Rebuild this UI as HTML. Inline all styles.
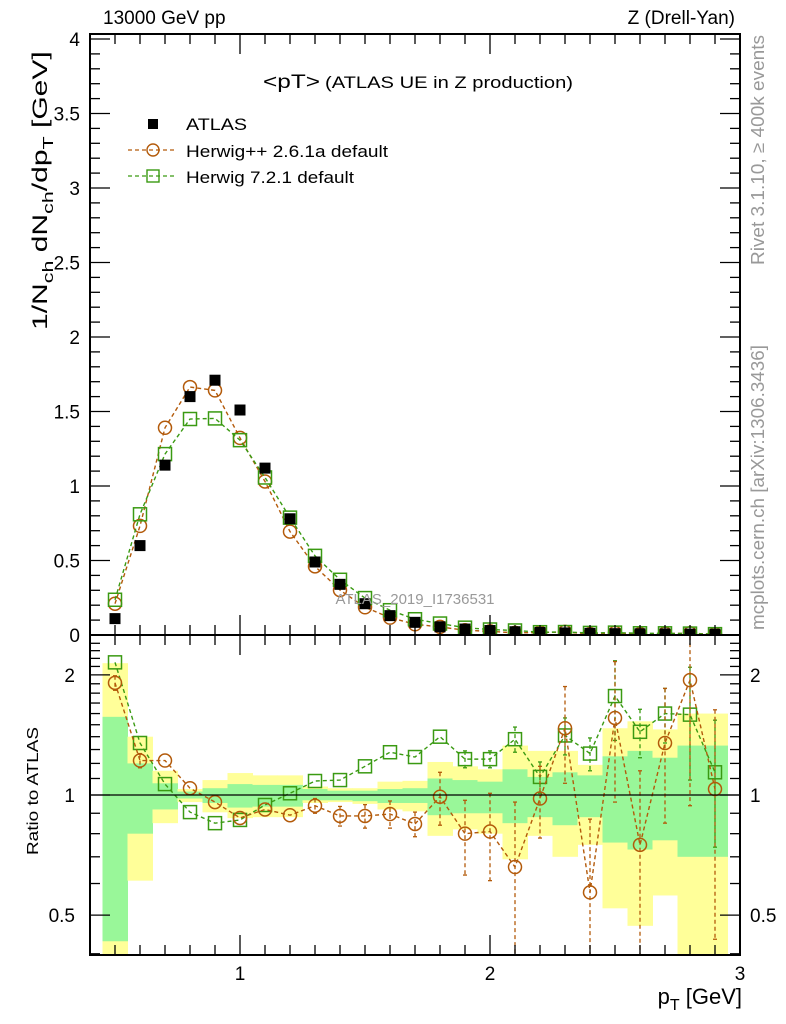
<!DOCTYPE html>
<html><head><meta charset="utf-8"><style>
body{margin:0;background:#fff;}
svg{display:block;font-family:"Liberation Sans",sans-serif;}
</style></head><body>
<svg id="chart" width="786" height="1024" viewBox="0 0 786 1024" xmlns="http://www.w3.org/2000/svg">
<defs>
<clipPath id="clipMain"><rect x="90" y="34" width="650" height="601"/></clipPath>
<clipPath id="clipRatio"><rect x="90" y="635" width="650" height="320"/></clipPath>
</defs>
<g id="bands" clip-path="url(#clipRatio)"></g>
<g id="marks"></g>
<g id="axes"></g>
<text x="103" y="24" font-size="19">13000 GeV pp</text>
<text x="735" y="24" font-size="19" text-anchor="end">Z (Drell-Yan)</text>
<text x="263" y="88"><tspan font-size="19" textLength="57" lengthAdjust="spacingAndGlyphs">&lt;pT&gt;</tspan><tspan font-size="17" x="325" textLength="248" lengthAdjust="spacingAndGlyphs">(ATLAS UE in Z production)</tspan></text>
<g>
<rect x="148" y="119" width="10" height="10" fill="#000"/>
<text x="186" y="130" font-size="17" textLength="61" lengthAdjust="spacingAndGlyphs">ATLAS</text>
<line x1="128" y1="150" x2="177" y2="150" stroke="#b35a0a" stroke-width="1.3" stroke-dasharray="4,3"/>
<circle cx="153" cy="150" r="6" fill="none" stroke="#b35a0a" stroke-width="1.4"/>
<text x="186" y="157" font-size="17" textLength="202" lengthAdjust="spacingAndGlyphs">Herwig++ 2.6.1a default</text>
<line x1="128" y1="176" x2="177" y2="176" stroke="#3a9a12" stroke-width="1.3" stroke-dasharray="4,3"/>
<rect x="147" y="170" width="12" height="12" fill="none" stroke="#3a9a12" stroke-width="1.4"/>
<text x="186" y="183" font-size="17" textLength="168" lengthAdjust="spacingAndGlyphs">Herwig 7.2.1 default</text>
</g>
<text x="415" y="604" font-size="15" fill="#999" text-anchor="middle">ATLAS_2019_I1736531</text>
<text transform="translate(764,265) rotate(-90)" font-size="18" fill="#999" textLength="230" lengthAdjust="spacingAndGlyphs">Rivet 3.1.10, ≥ 400k events</text>
<text transform="translate(764,630) rotate(-90)" font-size="18" fill="#999" textLength="285" lengthAdjust="spacingAndGlyphs">mcplots.cern.ch [arXiv:1306.3436]</text>
<text transform="translate(47,330) rotate(-90) scale(1.43,1)" font-size="21">1/N<tspan font-size="15" dy="6">ch</tspan><tspan dy="-6"> dN</tspan><tspan font-size="15" dy="6">ch</tspan><tspan dy="-6">/dp</tspan><tspan font-size="15" dy="6">T</tspan><tspan dy="-6"> [GeV]</tspan></text>
<text transform="translate(38,791) rotate(-90)" font-size="16" text-anchor="middle" textLength="128" lengthAdjust="spacingAndGlyphs">Ratio to ATLAS</text>
<text x="742" y="1004" font-size="22" text-anchor="end">p<tspan font-size="16" dy="6">T</tspan><tspan dy="-6"> [GeV]</tspan></text>
<script>
const xs=[0.5,0.6,0.7,0.8,0.9,1.0,1.1,1.2,1.3,1.4,1.5,1.6,1.7,1.8,1.9,2.0,2.1,2.2,2.3,2.4,2.5,2.6,2.7,2.8,2.9];
const atlasVals=[0.11,0.60,1.14,1.60,1.71,1.51,1.12,0.78,0.49,0.34,0.21,0.13,0.085,0.055,0.04,0.03,0.022,0.017,0.014,0.011,0.009,0.008,0.007,0.006,0.005];
const hppRatio=[1.91,1.22,1.22,1.04,0.96,0.876,0.92,0.89,0.94,0.886,0.886,0.896,0.846,0.99,0.80,0.81,0.66,0.98,1.47,0.57,1.56,0.75,1.35,1.94,1.035];
const hppErr=[0.08,0.05,0.03,0.02,0.02,0.02,0.03,0.03,0.04,0.05,0.06,0.07,0.06,0.15,0.17,0.2,0.3,0.2,0.4,0.3,0.6,0.4,0.5,1.0,0.6];
const h7Ratio=[2.15,1.35,1.065,0.906,0.85,0.866,0.944,1.01,1.084,1.09,1.18,1.28,1.245,1.40,1.23,1.23,1.38,1.11,1.41,1.27,1.77,1.44,1.60,1.59,1.14];
const h7Err=[0.03,0.03,0.02,0.02,0.02,0.02,0.02,0.02,0.02,0.03,0.03,0.04,0.04,0.05,0.06,0.06,0.1,0.1,0.15,0.12,0.4,0.2,0.25,0.5,0.4];
const yelHi=[2.14,1.40,1.15,1.035,1.09,1.135,1.12,1.12,1.05,1.04,1.04,1.08,1.085,1.21,1.18,1.16,1.33,1.29,1.29,1.19,1.47,1.53,1.46,1.60,1.60];
const grnHi=[1.57,1.20,1.07,1.02,1.04,1.065,1.06,1.06,1.035,1.025,1.025,1.035,1.04,1.10,1.09,1.08,1.16,1.11,1.14,1.12,1.25,1.29,1.24,1.33,1.33];
const grnLo=[0.43,0.80,0.92,0.98,0.955,0.93,0.935,0.935,0.97,0.97,0.965,0.955,0.955,0.89,0.90,0.90,0.85,0.88,0.84,0.88,0.76,0.73,0.77,0.70,0.70];
const yelLo=[0.30,0.61,0.85,0.96,0.905,0.875,0.88,0.88,0.955,0.96,0.95,0.92,0.91,0.79,0.82,0.80,0.69,0.79,0.70,0.75,0.52,0.47,0.56,0.30,0.30];
const mainTicks=["0","0.5","1","1.5","2","2.5","3","3.5","4"];
const xTickLabels=["1","2","3"];
const ratioTickLabels=["0.5","1","2"];

const NS="http://www.w3.org/2000/svg";
const X=v=>90+(v-0.4)*250;
const Ym=v=>635-v*149;
const Yr=v=>795-Math.log10(v)*399;
const OR="#b35a0a",GR="#3a9a12";
function mk(tag,attrs,parent){const e=document.createElementNS(NS,tag);for(const k in attrs)e.setAttribute(k,attrs[k]);parent.appendChild(e);return e;}
const bands=document.getElementById('bands'),marks=document.getElementById('marks'),axes=document.getElementById('axes');
xs.forEach((x,i)=>{
 let r=mk('rect',{x:X(x-0.05),y:Yr(yelHi[i]),width:X(x+0.05)-X(x-0.05)+0.5,height:Yr(yelLo[i])-Yr(yelHi[i]),fill:'#ffff99'},bands);
 
 
 let g=mk('rect',{x:X(x-0.05),y:Yr(grnHi[i]),width:X(x+0.05)-X(x-0.05)+0.5,height:Yr(grnLo[i])-Yr(grnHi[i]),fill:'#99f799'},bands);
 
 
});
mk('line',{x1:90,y1:Yr(1),x2:740,y2:Yr(1),stroke:'#000','stroke-width':1.3},axes);
function series(ratio,err,col,shape,clip,Yf,vals,name){
 const g=mk('g',{'clip-path':clip},marks);
 
 
 const pts=xs.map((x,i)=>X(x)+','+Yf(vals[i]));
 mk('polyline',{points:pts.join(' '),fill:'none',stroke:col,'stroke-width':1.4,'stroke-dasharray':'4,3'},g);
 xs.forEach((x,i)=>{
  const cx=X(x),cy=Yf(vals[i]);
  if(err){const lo=Yf(Math.max(ratio?vals[i]-err[i]:vals[i]*(1-err[i]),0.01)),hi=Yf(ratio?vals[i]+err[i]:vals[i]*(1+err[i]));
   if(Math.abs(lo-hi)>14){mk('line',{x1:cx,y1:hi,x2:cx,y2:lo,stroke:col,'stroke-width':1.3,'stroke-dasharray':'4,3'},g);
   mk('line',{x1:cx-2,y1:hi,x2:cx+2,y2:hi,stroke:col,'stroke-width':1.3},g);mk('line',{x1:cx-2,y1:lo,x2:cx+2,y2:lo,stroke:col,'stroke-width':1.3},g);}}
  let m;
  if(shape==='c')m=mk('circle',{cx:cx,cy:cy,r:6.5,fill:'none',stroke:col,'stroke-width':1.5},g);
  else m=mk('rect',{x:cx-6.5,y:cy-6.5,width:13,height:13,fill:'none',stroke:col,'stroke-width':1.5},g);
  
  
 });
}
const hppMain=xs.map((x,i)=>atlasVals[i]*hppRatio[i]);
const h7Main=xs.map((x,i)=>atlasVals[i]*h7Ratio[i]);
series(false,hppErr.map(e=>e*0.02),OR,'c','url(#clipMain)',Ym,hppMain,'herwigpp-main-series');
series(false,null,GR,'s','url(#clipMain)',Ym,h7Main,'herwig7-main-series');
const ag=mk('g',{'clip-path':'url(#clipMain)'},marks);


xs.forEach((x,i)=>{const r=mk('rect',{x:X(x)-5.5,y:Ym(atlasVals[i])-5.5,width:11,height:11,fill:'#000'},ag);
 
 });
series(true,h7Err,GR,'s','url(#clipRatio)',Yr,h7Ratio,'herwig7-ratio-series');
series(true,hppErr,OR,'c','url(#clipRatio)',Yr,hppRatio,'herwigpp-ratio-series');
mk('rect',{x:90,y:34,width:650,height:601,fill:'none',stroke:'#000','stroke-width':2},axes);
mk('rect',{x:90,y:635,width:650,height:320,fill:'none',stroke:'#000','stroke-width':2},axes);
function tick(x1,y1,x2,y2){mk('line',{x1,y1,x2,y2,stroke:'#000','stroke-width':1.3},axes);}
for(let k=5;k<=30;k++){const v=k/10,px=X(v),L=(k%10===0)?20:10;
 tick(px,635,px,635-L);tick(px,34,px,34+L);tick(px,955,px,955-L);tick(px,635,px,635+L);}
xTickLabels.forEach(t=>{const e=mk('text',{x:X(+t),y:980,'font-size':19,'text-anchor':'middle'},axes);e.textContent=t;
 
 });
for(let k=0;k<=40;k++){const v=k/10,py=Ym(v),L=(k%5===0)?20:10;tick(90,py,90+L,py);tick(740,py,740-L,py);}
mainTicks.forEach(t=>{const e=mk('text',{x:80,y:Ym(+t)+7,'font-size':19,'text-anchor':'end'},axes);e.textContent=t;
 
 });
for(let k=4;k<=24;k++){const v=k/10,py=Yr(v),L=(k===5||k===10||k===20)?20:10;if(py<636||py>954)continue;tick(90,py,90+L,py);tick(740,py,740-L,py);}
ratioTickLabels.forEach(t=>{let e=mk('text',{x:75,y:Yr(+t)+7,'font-size':19,'text-anchor':'end'},axes);e.textContent=t;
 
 
 e=mk('text',{x:750,y:Yr(+t)+7,'font-size':19},axes);e.textContent=t;
 
 });
</script>
</svg>
</body></html>
